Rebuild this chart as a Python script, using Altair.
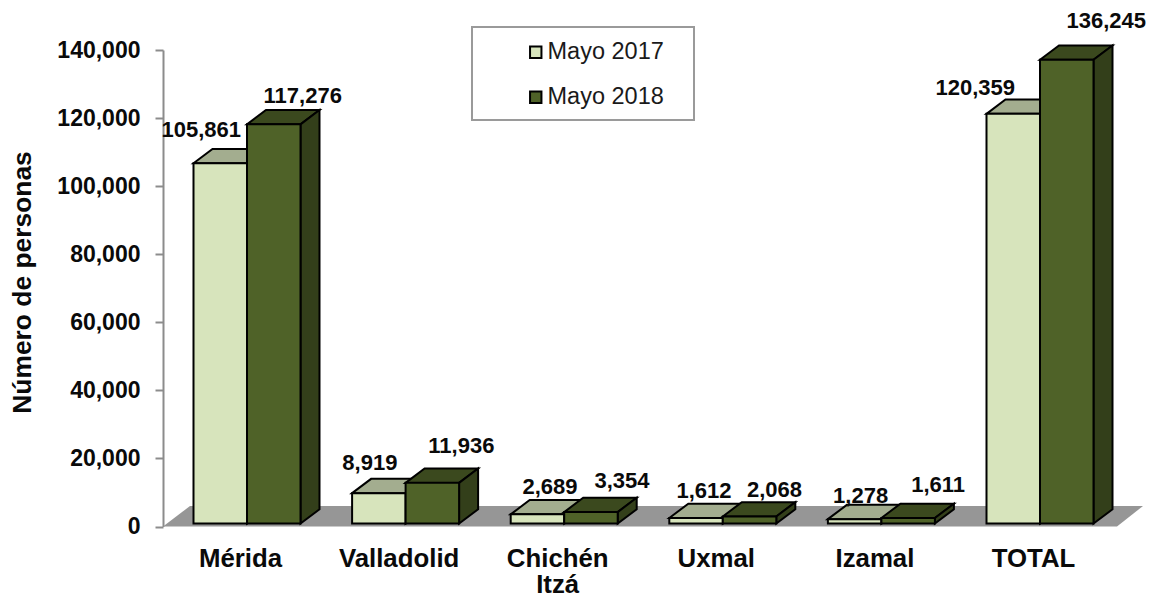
import altair as alt
import pandas as pd

categories = ["Mérida", "Valladolid", "Chichén Itzá", "Uxmal", "Izamal", "TOTAL"]
mayo_2017 = [105861, 8919, 2689, 1612, 1278, 120359]
mayo_2018 = [117276, 11936, 3354, 2068, 1611, 136245]
series_names = ["Mayo 2017", "Mayo 2018"]
y_ticks = [0, 20000, 40000, 60000, 80000, 100000, 120000, 140000]

# label placement relative to the bar top: px right of bar centre, px above bar top
label_dx = {"Mayo 2017": [-19, -9, 12.5, 8, 6, -38], "Mayo 2018": [29, 29, 31, 25, 30, 39.5]}
label_dy = {"Mayo 2017": [33, 30, 27, 27, 23, 26], "Mayo 2018": [28, 37, 31, 26.5, 33, 39]}

# pixel geometry of the pseudo-3D box
PLOT_W, PLOT_H = 980, 476.5
Y_MAX = 140000
PX_X = 158.6                 # px per category
PX_Y = PLOT_H / Y_MAX        # px per unit
X0 = -84 / PX_X
X1 = X0 + PLOT_W / PX_X
HALF = 53.5 / PX_X           # bar width
DX = 19 / PX_X               # depth
DY = 14.3 / PX_Y
LIFT = 3 / PX_Y              # bars stand slightly above the axis zero

front_col = {"Mayo 2017": "#D7E4BC", "Mayo 2018": "#4F6228"}
top_col = {"Mayo 2017": "#A3AD8F", "Mayo 2018": "#3B491E"}
side_col = {"Mayo 2017": "#A3AD8F", "Mayo 2018": "#333F1A"}

fronts, faces, labels = [], [], []
for s, name in enumerate(series_names):
    vals = mayo_2017 if s == 0 else mayo_2018
    for i, (cat, v) in enumerate(zip(categories, vals)):
        xl = i - HALF + s * HALF
        xr = xl + HALF
        top = v + LIFT
        fronts.append(dict(serie=name, xl=xl, xr=xr, y0=LIFT, y1=top))
        faces += [
            dict(serie=name, face=f"t{i}", fill=top_col[name], x=xl, y=top, y2=top),
            dict(serie=name, face=f"t{i}", fill=top_col[name], x=xl + DX, y=top + DY, y2=top),
            dict(serie=name, face=f"t{i}", fill=top_col[name], x=xr, y=top + DY, y2=top),
            dict(serie=name, face=f"t{i}", fill=top_col[name], x=xr + DX, y=top + DY, y2=top + DY),
            dict(serie=name, face=f"s{i}", fill=side_col[name], x=xr, y=top, y2=LIFT),
            dict(serie=name, face=f"s{i}", fill=side_col[name], x=xr + DX, y=top + DY, y2=LIFT + DY),
        ]
        labels.append(dict(
            x=(xl + xr) / 2 + label_dx[name][i] / PX_X,
            y=top + label_dy[name][i] / PX_Y,
            text=f"{v:,}",
        ))
fronts = pd.DataFrame(fronts)
faces = pd.DataFrame(faces)
labels = pd.DataFrame(labels)

FLOOR_Y = 20.5 / PX_Y
floor = pd.DataFrame([
    dict(x=X0, y=0, y2=0),
    dict(x=X0 + 27 / PX_X, y=FLOOR_Y, y2=0),
    dict(x=X1 - 26 / PX_X, y=FLOOR_Y, y2=0),
    dict(x=X1, y=FLOOR_Y, y2=FLOOR_Y),
])

x_scale = alt.Scale(domain=[X0, X1], nice=False, zero=False)
y_scale = alt.Scale(domain=[0, Y_MAX], nice=False)
FONT = "Liberation Sans"

label_array = '["Mérida","Valladolid",["Chichén","Itzá"],"Uxmal","Izamal","TOTAL"]'
x_axis = alt.Axis(
    values=list(range(len(categories))), labelExpr=f"{label_array}[round(datum.value)]",
    title=None, domain=False, ticks=False, grid=False, labelFont=FONT, labelFontWeight="bold",
    labelFontSize=25.8, labelColor="#0a0a0a", labelPadding=20, labelOffset=-7, labelAngle=0,
    labelLineHeight=26, labelOverlap=False, labelFlush=False, labelBaseline="top",
)
y_axis = alt.Axis(
    values=y_ticks, labelExpr="format(datum.value, ',')", title="Número de personas", grid=False,
    domainColor="#8c8c8c",
    domainWidth=2, tickColor="#8c8c8c", tickWidth=2, tickSize=8, labelPadding=15, labelFont=FONT,
    labelFontWeight="bold", labelFontSize=23, labelColor="#0a0a0a", titleFont=FONT,
    titleFontWeight="bold", titleFontSize=26.4, titleColor="#0a0a0a", titleX=-127, titleY=232,
    labelOverlap=False,
)

base_axes = alt.Chart(floor).mark_area(color="#969696", opacity=1).encode(
    x=alt.X("x:Q", scale=x_scale, axis=x_axis),
    y=alt.Y("y:Q", scale=y_scale, axis=y_axis),
    y2="y2:Q",
)


def face_layer(name):
    return alt.Chart(faces[faces.serie == name]).mark_area(
        stroke="#000000", strokeWidth=2, opacity=1
    ).encode(
        x=alt.X("x:Q", scale=x_scale, axis=x_axis),
        y=alt.Y("y:Q", scale=y_scale, axis=y_axis),
        y2="y2:Q",
        detail="face:N",
        fill=alt.Fill("fill:N", scale=None),
    )


color = alt.Color(
    "serie:N",
    scale=alt.Scale(domain=series_names, range=[front_col[n] for n in series_names]),
    legend=alt.Legend(
        title=None, orient="none", legendX=361, legendY=-9.5, symbolType="square", symbolSize=130,
        symbolStrokeColor="#000000", symbolStrokeWidth=2, labelFont=FONT, labelFontSize=23.5,
        labelColor="#1a1a1a", rowPadding=20, labelOffset=0, symbolOpacity=1,
    ),
)


def front_layer(name):
    return alt.Chart(fronts[fronts.serie == name]).mark_rect(
        stroke="#000000", strokeWidth=2, opacity=1
    ).encode(
        x=alt.X("xl:Q", scale=x_scale, axis=x_axis),
        x2="xr:Q",
        y=alt.Y("y0:Q", scale=y_scale, axis=y_axis),
        y2="y1:Q",
        color=color,
    )


label_layer = alt.Chart(labels).mark_text(
    font=FONT, fontWeight="bold", fontSize=22, color="#0a0a0a", baseline="middle", align="center"
).encode(
    x=alt.X("x:Q", scale=x_scale, axis=x_axis),
    y=alt.Y("y:Q", scale=y_scale, axis=y_axis),
    text="text:N",
)

legend_box = alt.Chart(pd.DataFrame({"k": [0]})).mark_rect(
    fill="#ffffff", stroke="#9a9a9a", strokeWidth=2
).encode(x=alt.value(309), x2=alt.value(531), y=alt.value(-23), y2=alt.value(70))

chart = alt.layer(
    base_axes,
    face_layer("Mayo 2017"), front_layer("Mayo 2017"),
    face_layer("Mayo 2018"), front_layer("Mayo 2018"),
    label_layer, legend_box,
).properties(
    width=PLOT_W, height=PLOT_H,
    autosize=alt.AutoSizeParams(type="none"),
    padding={"left": 155, "top": 42, "right": 4, "bottom": 71},
    background="#ffffff",
).configure_view(stroke=None)

chart.save("out.html", embed_options={"renderer": "svg", "actions": False})
